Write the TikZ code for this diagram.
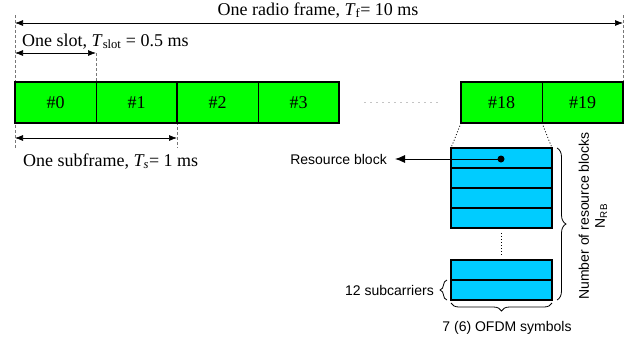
\documentclass[tikz,border=0pt]{standalone}
\usepackage{fontspec}
\setmainfont{Liberation Serif}
\setsansfont{Liberation Sans}
\usetikzlibrary{arrows.meta,positioning,decorations.pathreplacing}
\definecolor{slotgreen}{RGB}{0,255,0}
\definecolor{rbcyan}{RGB}{0,204,255}
\definecolor{guidegray}{RGB}{120,120,120}

\begin{document}
\begin{tikzpicture}[x=1pt,y=1pt,
  slot/.style={rectangle,draw,line width=0.8pt,fill=slotgreen,minimum width=81pt,
    minimum height=41pt,inner sep=0pt,outer sep=0pt,font=\fontsize{18}{21}\selectfont},
  subframe/.style={draw,line width=2pt},
  rb/.style={rectangle,draw,line width=1.2pt,fill=rbcyan,minimum width=101pt,
    minimum height=20pt,inner sep=0pt,outer sep=0pt},
  guide/.style={draw=guidegray,dash pattern=on 3pt off 2pt,line width=0.6pt},
  dots/.style={line width=0.8pt,dash pattern=on 1pt off 2pt},
  dim/.style={{Latex[length=8pt,width=6pt]}-{Latex[length=8pt,width=6pt]},line width=0.7pt},
  serif/.style={font=\fontsize{18}{21}\selectfont,inner sep=0pt},
  lbl/.style={font=\sffamily\fontsize{14}{16}\selectfont,inner sep=0pt},
  brc/.style={decorate,decoration={brace,amplitude=#1},line width=0.8pt}
]
\useasboundingbox (0,0) rectangle (627,-341);

\coordinate (fl) at (15,-23);
\coordinate (fr) at (623,-23);
\coordinate (sl) at (15,-53);
\coordinate (sr) at (96,-53);
\coordinate (ul) at (15,-138);
\coordinate (ur) at (177,-138);

\draw[guide] (15,-15) -- (15,-148);
\draw[guide] (623,-15) -- (623,-82);
\draw[guide] (sr) -- (96,-82);
\draw[guide] (177,-122) -- (177,-148);

\node[slot] (s0) at (55.5,-102.5) {\#0};
\node[slot,right=0pt of s0] (s1) {\#1};
\node[slot,right=0pt of s1] (s2) {\#2};
\node[slot,right=0pt of s2] (s3) {\#3};
\node[slot] (s18) at (501.5,-102.5) {\#18};
\node[slot,right=0pt of s18] (s19) {\#19};
\draw[subframe] (s0.north west) rectangle (s1.south east);
\draw[subframe] (s2.north west) rectangle (s3.south east);
\draw[subframe] (s18.north west) rectangle (s19.south east);
\draw[line width=0.9pt,line cap=round,dash pattern=on 0pt off 6pt,
  shorten <=26pt,shorten >=24pt] (s3.east) -- (s18.west);

\draw[dim] (fl) -- (fr);
\draw[dim] (sl) -- (sr);
\draw[dim] (ul) -- (ur);
\node[serif,anchor=base] (tframe) at (318,-15) {One radio frame, \textit{T}\textsubscript{f}= 10 ms};
\node[serif,anchor=base west] (tslot) at (22,-46) {One slot, \textit{T}\textsubscript{slot} = 0.5 ms};
\node[serif,anchor=base west] (tsub) at (23,-166) {One subframe, \textit{T\textsubscript{s}}= 1 ms};

\node[rb] (rb1) at (501.5,-158) {};
\node[rb,below=0pt of rb1] (rb2) {};
\node[rb,below=0pt of rb2] (rb3) {};
\node[rb,below=0pt of rb3] (rb4) {};
\node[rb] (rb5) at (501.5,-270) {};
\node[rb,below=0pt of rb5] (rb6) {};

\draw[dots] (s18.south west) -- (rb1.north west);
\draw[dots] (s18.south east) -- (rb1.north east);
\draw[dots,shorten <=5pt,shorten >=4pt] (rb4.south) -- (rb5.north);

\node[circle,fill,inner sep=0pt,minimum size=7pt] (rbdot) at (501,-159) {};
\node[lbl,anchor=east] (rblabel) at (387,-159) {Resource block};
\draw[-{Latex[length=10pt,width=8pt]},line width=0.9pt,shorten >=8pt] (rbdot.center) -- (rblabel.east);

\draw[brc=7pt] ([xshift=-4pt]rb6.south west) -- ([xshift=-4pt]rb6.north west);
\node[lbl,anchor=east] (sclabel) at (434,-290) {12 subcarriers};
\draw[brc=8pt] ([yshift=-3pt]rb6.south east) -- ([yshift=-3pt]rb6.south west);
\node[lbl] (symlabel) at (507,-328) {7 (6) OFDM symbols};
\draw[brc=9pt] ([xshift=5pt]rb1.north east) -- ([xshift=5pt]rb6.south east);
\node[lbl,rotate=90,align=center] (nrb) at (593,-216) {Number of resource blocks\\N\textsubscript{RB}};
\end{tikzpicture}
\end{document}
